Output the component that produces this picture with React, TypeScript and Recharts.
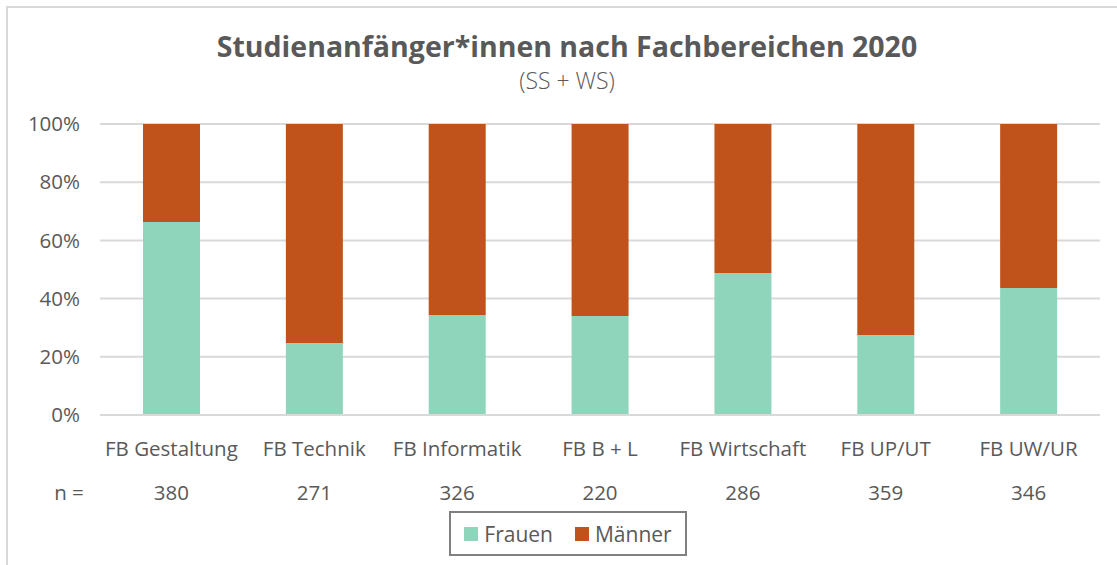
import React from "react";
import { BarChart, Bar, XAxis, YAxis, CartesianGrid, Legend } from "recharts";

const categories = [
  "FB Gestaltung",
  "FB Technik",
  "FB Informatik",
  "FB B + L",
  "FB Wirtschaft",
  "FB UP/UT",
  "FB UW/UR",
];
const frauen = [0.663, 0.247, 0.344, 0.34, 0.488, 0.275, 0.436];
const maenner = frauen.map((f) => 1 - f);
const counts = [380, 271, 326, 220, 286, 359, 346];
const yTicks = [0, 0.2, 0.4, 0.6, 0.8, 1];

const FONT = "'Open Sans', sans-serif";
const TEXT = "#595959";
const C_FRAUEN = "#8FD5BB";
const C_MAENNER = "#C0531B";

const data = categories.map((name, i) => ({
  name,
  frauen: frauen[i],
  maenner: maenner[i],
  n: counts[i],
}));

function CategoryTick(props: any) {
  const { x, y, payload, index } = props;
  return (
    <g>
      <text x={x} y={y + 33} textAnchor="middle" fill={TEXT} fontSize={20.5} fontFamily={FONT}>
        {payload.value}
      </text>
      <text x={x} y={y + 77} textAnchor="middle" fill={TEXT} fontSize={20.5} fontFamily={FONT}>
        {counts[index]}
      </text>
      {index === 0 && (
        <text x={69} y={y + 77} textAnchor="middle" fill={TEXT} fontSize={20.5} fontFamily={FONT}>
          n =
        </text>
      )}
    </g>
  );
}

function LegendBox() {
  const items = [
    { label: "Frauen", color: C_FRAUEN },
    { label: "Männer", color: C_MAENNER },
  ];
  return (
    <div
      style={{
        display: "flex",
        alignItems: "center",
        justifyContent: "center",
        gap: 22,
        width: 234,
        height: 41,
        border: "2px solid #808080",
        fontFamily: FONT,
        fontSize: 21,
        color: TEXT,
      }}
    >
      {items.map((it) => (
        <span key={it.label} style={{ display: "flex", alignItems: "center" }}>
          <span style={{ width: 14, height: 14, background: it.color, marginRight: 6 }} />
          {it.label}
        </span>
      ))}
    </div>
  );
}

export default function App() {
  return (
    <div
      style={{
        position: "fixed",
        left: 0,
        top: 0,
        width: 1117,
        height: 565,
        background: "#fff",
        overflow: "hidden",
      }}
    >
      <div
        style={{
          position: "absolute",
          left: 6,
          top: 6,
          width: 1130,
          height: 580,
          border: "2px solid #d9d9d9",
        }}
      />
      <div
        style={{
          position: "absolute",
          left: 0,
          top: 27,
          width: 1134,
          textAlign: "center",
          fontFamily: FONT,
          fontWeight: 700,
          fontSize: 28.5,
          color: TEXT,
        }}
      >
        Studienanfänger*innen nach Fachbereichen 2020
      </div>
      <div
        style={{
          position: "absolute",
          left: 0,
          top: 64,
          width: 1134,
          textAlign: "center",
          fontFamily: FONT,
          fontWeight: 300,
          fontSize: 23,
          color: TEXT,
        }}
      >
        (SS + WS)
      </div>
      <BarChart
        width={1117}
        height={565}
        data={data}
        margin={{ top: 124, right: 17, bottom: 65, left: 10 }}
        barSize={57}
      >
        <CartesianGrid vertical={false} stroke="#d9d9d9" strokeWidth={2} />
        <XAxis
          dataKey="name"
          height={40}
          axisLine={{ stroke: "#d9d9d9", strokeWidth: 2 }}
          tickLine={false}
          tick={<CategoryTick />}
          interval={0}
        />
        <YAxis
          width={90}
          domain={[0, 1]}
          ticks={yTicks}
          tickFormatter={(v: number) => `${Math.round(v * 100)}%`}
          axisLine={false}
          tickLine={false}
          tick={{ fill: TEXT, fontSize: 20.5, fontFamily: FONT }}
          tickMargin={14}
        />
        <Legend
          content={<LegendBox />}
          wrapperStyle={{ position: "absolute", left: 449, top: 511, width: 238, height: 45 }}
        />
        <Bar dataKey="frauen" name="Frauen" stackId="a" fill={C_FRAUEN} isAnimationActive={false} />
        <Bar dataKey="maenner" name="Männer" stackId="a" fill={C_MAENNER} isAnimationActive={false} />
      </BarChart>
    </div>
  );
}
